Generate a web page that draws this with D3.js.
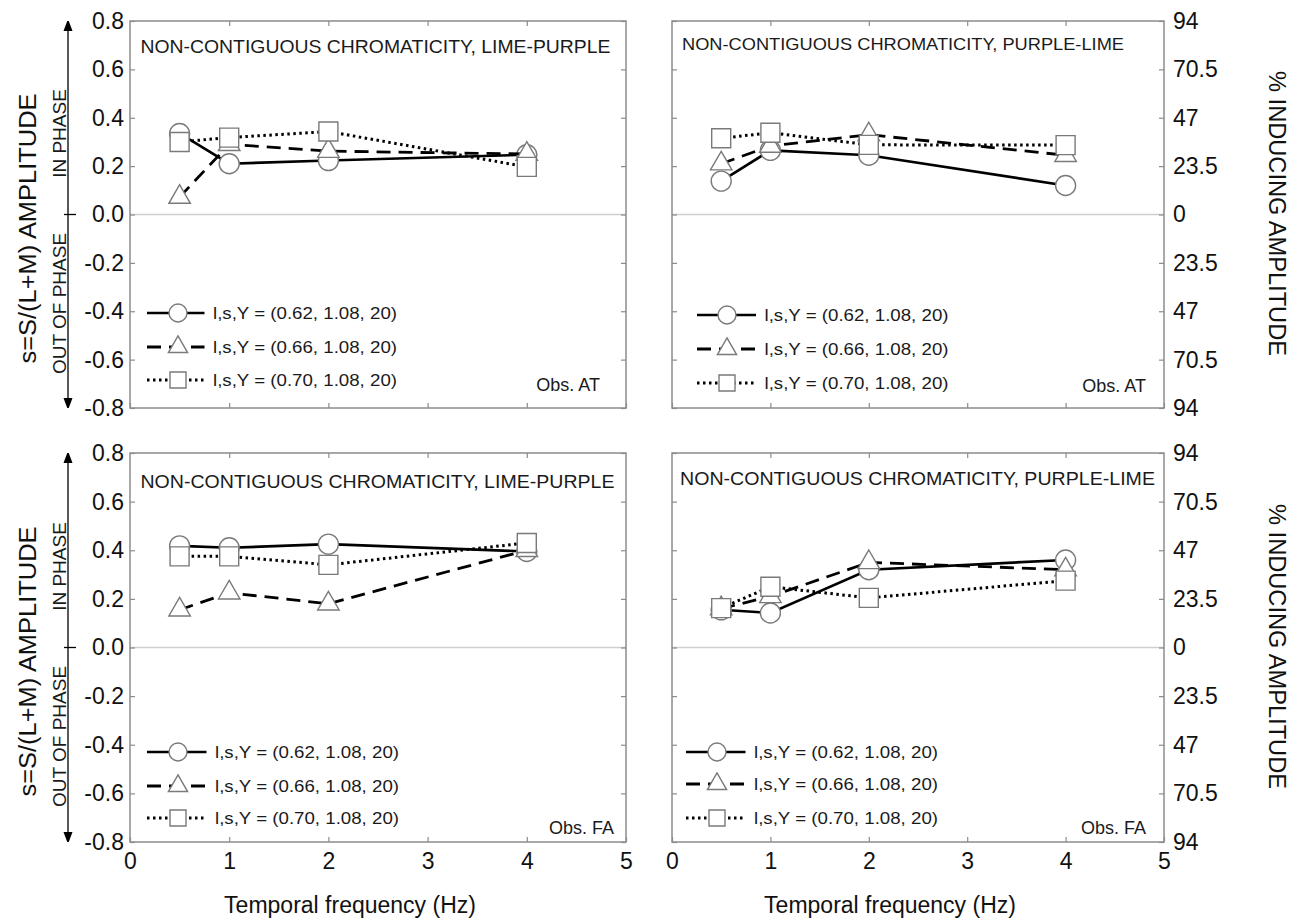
<!DOCTYPE html>
<html lang="en">
  <head>
    <meta charset="utf-8">
    <title>Chromatic induction vs temporal frequency</title>
    <style>
    body { margin: 0; background: #fff; }
    svg { font-family: "Liberation Sans", Arial, sans-serif; }
    .axis path { display: none; }
    .axis line { stroke: #8c8c8c; stroke-width: 1.2; }
    .axis text { font-size: 23px; fill: #111; }
    </style>
    <script type="text/javascript" src="https://cdn.jsdelivr.net/npm/d3@7/dist/d3.min.js"></script>
  </head>
  <body>
    <script type="text/javascript">

      // data
      var freqs = [0.5, 1, 2, 4];
      var xTicks = [0, 1, 2, 3, 4, 5];
      var yTicks = [-0.8, -0.6, -0.4, -0.2, 0, 0.2, 0.4, 0.6, 0.8];
      var rightTickLabels = ["94", "70.5", "47", "23.5", "0", "23.5", "47", "70.5", "94"];
      var seriesNames = ["l,s,Y = (0.62, 1.08, 20)", "l,s,Y = (0.66, 1.08, 20)", "l,s,Y = (0.70, 1.08, 20)"];
      var panelTitles = [
        "NON-CONTIGUOUS CHROMATICITY, LIME-PURPLE",
        "NON-CONTIGUOUS CHROMATICITY, PURPLE-LIME",
        "NON-CONTIGUOUS CHROMATICITY, LIME-PURPLE",
        "NON-CONTIGUOUS CHROMATICITY, PURPLE-LIME"
      ];
      var observers = ["Obs. AT", "Obs. AT", "Obs. FA", "Obs. FA"];

      // observer AT, lime-purple
      var atLpCircle   = [0.335, 0.21, 0.223, 0.247];
      var atLpTriangle = [0.072, 0.29, 0.262, 0.25];
      var atLpSquare   = [0.30, 0.318, 0.343, 0.197];
      // observer AT, purple-lime
      var atPlCircle   = [0.138, 0.265, 0.245, 0.12];
      var atPlTriangle = [0.21, 0.283, 0.33, 0.245];
      var atPlSquare   = [0.315, 0.338, 0.288, 0.287];
      // observer FA, lime-purple
      var faLpCircle   = [0.418, 0.41, 0.425, 0.395];
      var faLpTriangle = [0.155, 0.225, 0.18, 0.40];
      var faLpSquare   = [0.375, 0.375, 0.34, 0.43];
      // observer FA, purple-lime
      var faPlCircle   = [0.155, 0.142, 0.32, 0.36];
      var faPlTriangle = [0.16, 0.21, 0.35, 0.32];
      var faPlSquare   = [0.162, 0.25, 0.204, 0.275];

      var panelData = [
        [atLpCircle, atLpTriangle, atLpSquare],
        [atPlCircle, atPlTriangle, atPlSquare],
        [faLpCircle, faLpTriangle, faLpSquare],
        [faPlCircle, faPlTriangle, faPlSquare]
      ];

      // layout of the four panels (pixels)
      var layout = [
        { x0: 130, x1: 626, y0: 21, y1: 408, left: true, bottom: false,
          title: [140.5, 53, 18.5, 470], obs: [600, 391],
          leg: { rows: [313, 347, 380], l0: 147, l1: 204.5, m: 178, t: 213 } },
        { x0: 672, x1: 1164, y0: 21, y1: 408, left: false, bottom: false,
          title: [682, 50, 17, 442], obs: [1146, 392],
          leg: { rows: [315, 349, 383], l0: 697, l1: 756, m: 727, t: 764.5 } },
        { x0: 130, x1: 626, y0: 453, y1: 842, left: true, bottom: true,
          title: [140.5, 488, 18.5, 474], obs: [614, 834],
          leg: { rows: [752, 786, 818], l0: 147, l1: 206.5, m: 178, t: 215 } },
        { x0: 672, x1: 1164, y0: 453, y1: 842, left: false, bottom: true,
          title: [680, 485, 17.5, 475], obs: [1146, 834],
          leg: { rows: [752, 784, 818], l0: 686, l1: 745.5, m: 717, t: 754 } }
      ];

      var lineStyles = [
        { width: 2.6, dash: null },
        { width: 2.8, dash: "14,8" },
        { width: 3, dash: "2.5,3.5" }
      ];
      var symbols = [d3.symbolCircle, d3.symbolTriangle, d3.symbolSquare];
      var symbolSizes = [314, 200, 361];
      var legendSizes = [254, 160, 256];

      var svg = d3.select("body")
          .append("svg")
          .attr("width", 1294)
          .attr("height", 920);

      // arrowheads for the phase arrows
      svg.append("defs").append("marker")
          .attr("id", "arrow")
          .attr("viewBox", "0 0 10 10")
          .attr("refX", 0).attr("refY", 5)
          .attr("markerWidth", 10).attr("markerHeight", 10)
          .attr("markerUnits", "userSpaceOnUse")
          .attr("orient", "auto-start-reverse")
          .append("path")
          .attr("d", "M0,0.5L12,5L0,9.5Z")
          .attr("fill", "#000");

      layout.forEach(function(p, i) {
        var x = d3.scaleLinear().domain([0, 5]).range([p.x0, p.x1]);
        var y = d3.scaleLinear().domain([-0.8, 0.8]).range([p.y1, p.y0]);
        var g = svg.append("g");

        // zero line
        g.append("line")
          .attr("x1", p.x0).attr("x2", p.x1)
          .attr("y1", y(0)).attr("y2", y(0))
          .attr("stroke", "#cfcfcf").attr("stroke-width", 1.6);

        // frame
        g.append("rect")
          .attr("x", p.x0).attr("y", p.y0)
          .attr("width", p.x1 - p.x0).attr("height", p.y1 - p.y0)
          .attr("fill", "none").attr("stroke", "#8c8c8c").attr("stroke-width", 1.5);

        // left axis (labels only on the left panels)
        g.append("g")
          .attr("class", "axis")
          .attr("transform", "translate(" + p.x0 + ",0)")
          .call(d3.axisLeft(y).tickValues(yTicks).tickSizeInner(-5).tickSizeOuter(0).tickPadding(6)
            .tickFormat(p.left ? function(d) { return d.toFixed(1); } : ""));

        // right axis (labels only on the right panels)
        g.append("g")
          .attr("class", "axis")
          .attr("transform", "translate(" + p.x1 + ",0)")
          .call(d3.axisRight(y).tickValues(yTicks).tickSizeInner(-5).tickSizeOuter(0).tickPadding(9)
            .tickFormat(p.left ? "" : function(d, k) { return rightTickLabels[k]; }));

        // bottom and top axes
        g.append("g")
          .attr("class", "axis")
          .attr("transform", "translate(0," + p.y1 + ")")
          .call(d3.axisBottom(x).tickValues(xTicks).tickSizeInner(-5).tickSizeOuter(0).tickPadding(11)
            .tickFormat(p.bottom ? d3.format("d") : ""));
        g.append("g")
          .attr("class", "axis")
          .attr("transform", "translate(0," + p.y0 + ")")
          .call(d3.axisTop(x).tickValues([1, 2, 3, 4]).tickSizeInner(-5).tickSizeOuter(0).tickFormat(""));

        // title and observer
        g.append("text")
          .attr("x", p.title[0]).attr("y", p.title[1])
          .attr("font-size", p.title[2])
          .attr("textLength", p.title[3]).attr("lengthAdjust", "spacingAndGlyphs")
          .attr("fill", "#1a1a1a")
          .text(panelTitles[i]);
        g.append("text")
          .attr("x", p.obs[0]).attr("y", p.obs[1])
          .attr("text-anchor", "end")
          .attr("font-size", 18).attr("fill", "#1a1a1a")
          .text(observers[i]);

        // series
        var line = d3.line()
          .x(function(d, k) { return x(freqs[k]); })
          .y(function(d) { return y(d); });

        panelData[i].forEach(function(vals, s) {
          g.append("path")
            .attr("d", line(vals))
            .attr("fill", "none")
            .attr("stroke", "#000")
            .attr("stroke-width", lineStyles[s].width)
            .attr("stroke-dasharray", lineStyles[s].dash);
          g.selectAll(null)
            .data(vals)
            .enter()
            .append("path")
            .attr("d", d3.symbol(symbols[s], symbolSizes[s]))
            .attr("transform", function(d, k) { return "translate(" + x(freqs[k]) + "," + y(d) + ")"; })
            .attr("fill", "#fff")
            .attr("stroke", "#7a7a7a")
            .attr("stroke-width", 1.4);
        });

        // legend
        seriesNames.forEach(function(name, s) {
          var ly = p.leg.rows[s];
          g.append("line")
            .attr("x1", p.leg.l0).attr("x2", p.leg.l1)
            .attr("y1", ly).attr("y2", ly)
            .attr("stroke", "#000")
            .attr("stroke-width", lineStyles[s].width)
            .attr("stroke-dasharray", lineStyles[s].dash);
          g.append("path")
            .attr("d", d3.symbol(symbols[s], legendSizes[s]))
            .attr("transform", "translate(" + p.leg.m + "," + ly + ")")
            .attr("fill", "#fff").attr("stroke", "#7a7a7a").attr("stroke-width", 1.4);
          g.append("text")
            .attr("x", p.leg.t).attr("y", ly)
            .attr("dy", "0.36em")
            .attr("font-size", 17)
            .attr("textLength", 184).attr("lengthAdjust", "spacingAndGlyphs")
            .attr("fill", "#1a1a1a")
            .text(name);
        });

        var zero = y(0);
        if (p.left) {
          // phase arrow
          g.append("line")
            .attr("x1", 68).attr("x2", 68)
            .attr("y1", p.y0 + 10).attr("y2", p.y1 - 10)
            .attr("stroke", "#000").attr("stroke-width", 1.3)
            .attr("marker-start", "url(#arrow)")
            .attr("marker-end", "url(#arrow)");
          g.append("line")
            .attr("x1", 64).attr("x2", 76)
            .attr("y1", zero).attr("y2", zero)
            .attr("stroke", "#000").attr("stroke-width", 1.3);
          g.append("text")
            .attr("transform", "translate(59," + (zero - 81) + ") rotate(-90)")
            .attr("text-anchor", "middle").attr("dy", "0.36em")
            .attr("font-size", 19).attr("fill", "#1a1a1a")
            .text("IN PHASE");
          g.append("text")
            .attr("transform", "translate(59," + (zero + 89) + ") rotate(-90)")
            .attr("text-anchor", "middle").attr("dy", "0.36em")
            .attr("font-size", 19).attr("fill", "#1a1a1a")
            .text("OUT OF PHASE");
          g.append("text")
            .attr("transform", "translate(28," + (zero + 14) + ") rotate(-90)")
            .attr("text-anchor", "middle").attr("dy", "0.36em")
            .attr("font-size", 23).attr("fill", "#111")
            .attr("textLength", 270).attr("lengthAdjust", "spacingAndGlyphs")
            .text("s=S/(L+M) AMPLITUDE");
        } else {
          g.append("text")
            .attr("transform", "translate(1277," + (zero - 1) + ") rotate(90)")
            .attr("text-anchor", "middle").attr("dy", "0.36em")
            .attr("font-size", 23).attr("fill", "#111")
            .attr("textLength", 285).attr("lengthAdjust", "spacingAndGlyphs")
            .text("% INDUCING AMPLITUDE");
        }

        if (p.bottom) {
          g.append("text")
            .attr("x", p.left ? 350 : 890).attr("y", 913)
            .attr("text-anchor", "middle")
            .attr("font-size", 23).attr("fill", "#111")
            .text("Temporal frequency (Hz)");
        }
      });

    </script>
  </body>
</html>
